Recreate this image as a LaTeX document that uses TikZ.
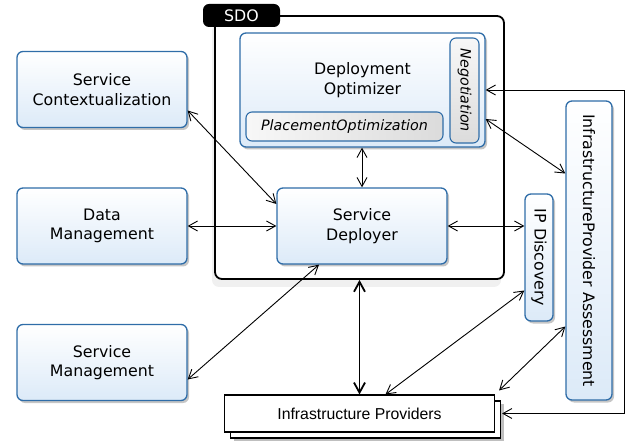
\documentclass[tikz,border=0pt]{standalone}
\usepackage{fontspec}
\setmainfont{DejaVu Sans}
\newfontfamily\arialfont{Liberation Sans}
\usepackage{tikz}
\usetikzlibrary{arrows.meta, shadows}
\definecolor{boxline}{HTML}{2F6DA8}
\definecolor{boxfill}{HTML}{DCEAF8}
\newcommand\diafont{\fontsize{15.8}{19.5}\selectfont}
\newcommand\innerfont{\fontsize{14.3}{17}\selectfont\itshape}
\tikzstyle{service} = [rectangle, rounded corners=6pt, minimum width=170pt, minimum height=76pt, align=center, draw=boxline, line width=1.3pt, top color=white, bottom color=boxfill, font=\diafont, drop shadow={shadow xshift=2pt, shadow yshift=-2.5pt, opacity=.45}]
\tikzstyle{inner} = [rectangle, rounded corners=6pt, draw=boxline, line width=1.1pt, left color=gray!6, right color=gray!28, font=\innerfont]
\tikzstyle{sdoframe} = [rectangle, rounded corners=7pt, draw=black, line width=1.8pt, fill=white, drop shadow={shadow xshift=-3pt, shadow yshift=-8pt, opacity=.12}]
\tikzstyle{sdotab} = [rectangle, rounded corners=6pt, minimum width=77pt, minimum height=23pt, fill=black, text=white, font=\diafont]
\tikzstyle{provider} = [rectangle, minimum width=270pt, minimum height=37pt, draw=black, line width=1.1pt, fill=white, font=\arialfont\fontsize{15.8}{19}\selectfont, drop shadow={shadow xshift=9pt, shadow yshift=-9pt, opacity=.5}, copy shadow={shadow xshift=6pt, shadow yshift=-6pt}]
\tikzstyle{arrow} = [line width=0.9pt, {Straight Barb[length=9pt,width=10pt]}-{Straight Barb[length=9pt,width=10pt]}]
\tikzstyle{bigarrow} = [line width=1.8pt, {Straight Barb[length=10pt,width=11pt]}-{Straight Barb[length=10pt,width=11pt]}]

\begin{document}
\begin{tikzpicture}[x=1pt, y=1pt, node distance=136.5pt]
\useasboundingbox (0,0) rectangle (626,442);
% SDO frame
\node (sdo) [sdoframe, minimum width=289pt, minimum height=263pt] at (359.5,294.5) {};
\node (sdotab) [sdotab] at (241.5,426.5) {SDO};
% left column
\node (sc) [service] at (102,352.5) {Service\\Contextualization};
\node (dm) [service, below of=sc] {Data\\Management};
\node (sm) [service, below of=dm] {Service\\Management};
% inside SDO
\node (sd) [service, right of=dm, xshift=123.5pt] {Service\\Deployer};
\node (do) [service, minimum width=245pt, minimum height=114pt] at (362.5,352) {};
\node (dotitle) [align=center, font=\diafont] at ([yshift=10pt]do.center) {Deployment\\Optimizer};
\node (po) [inner, minimum width=197pt, minimum height=29pt] at (344.5,315.5) {PlacementOptimization};
\node (nego) [inner, minimum width=29pt, minimum height=105pt, top color=gray!6, bottom color=gray!28] at (464.5,351.5) {\rotatebox{-90}{Negotiation}};
% right side
\node (ipd) [service, minimum width=28pt, minimum height=127pt] at (539,184.5) {\rotatebox{-90}{IP Discovery}};
\node (ipa) [service, minimum width=46pt, minimum height=299pt] at (589,191.5) {\rotatebox{-90}{InfrastructureProvider Assessment}};
\node (ip) [provider] at (359.5,28.5) {Infrastructure Providers};
\coordinate (rgt) at (624.5,0);

\draw [arrow] ([yshift=-21pt]sc.east) -- ([yshift=22pt]sd.west);
\draw [arrow] (dm) -- (sd);
\draw [arrow] ([yshift=-17pt]sm.east) -- ([xshift=-43pt]sd.south);
\draw [arrow] (sd.north |- do.south) -- (sd.north);
\draw [arrow] (sd.east) -- (sd.east -| ipd.west);
\draw [arrow] ([yshift=-29pt]do.east) -- ([yshift=77pt]ipa.west);
\draw [arrow] (do.east) -- (do.east -| rgt) |- ([xshift=7pt]ip.east);
\draw [arrow] ([yshift=-33pt]ipd.west) -- ([xshift=26pt]ip.north);
\draw [arrow] ([yshift=-76pt]ipa.west) -- ([shift={(4pt,4pt)}]ip.north east);
\draw [bigarrow] (sdo.south) -- (sdo.south |- ip.north);
\end{tikzpicture}
\end{document}
